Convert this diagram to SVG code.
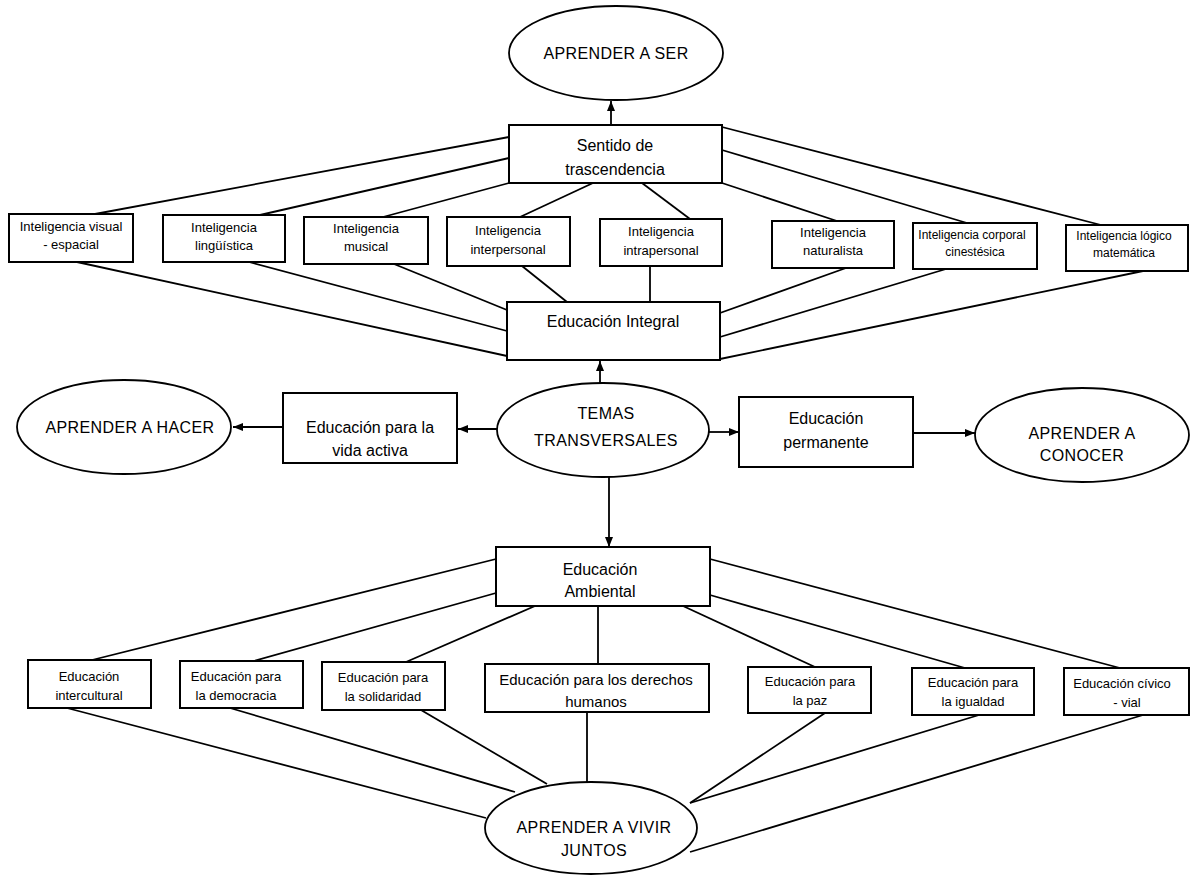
<svg xmlns="http://www.w3.org/2000/svg" width="1192" height="878" viewBox="0 0 1192 878">
<style>
.bg{fill:#ffffff}
.box{fill:#ffffff;stroke:#000;stroke-width:2}
.ell{fill:#ffffff;stroke:#000;stroke-width:1.8}
.ln{stroke:#000;stroke-width:1.8;fill:none}
.ar{stroke:#000;stroke-width:1.8;fill:none;marker-end:url(#ah)}
text{font-family:"Liberation Sans",Arial,sans-serif;fill:#000;text-anchor:middle}
.t16{font-size:16px;letter-spacing:0.4px}
.t16b{font-size:16px}
.t15{font-size:15px}
.t13{font-size:13px}
.t12{font-size:12px}
</style>
<defs>
<marker id="ah" markerUnits="userSpaceOnUse" markerWidth="11" markerHeight="9" refX="10" refY="4" orient="auto">
<path d="M0,0 L10,4 L0,8 Z" fill="#000"/>
</marker>
</defs>
<rect class="bg" x="0" y="0" width="1192" height="878"/>
<g id="connectors">
<line class="ar" x1="611" y1="125" x2="611" y2="101"/>
<line class="ar" x1="600" y1="384" x2="600" y2="361"/>
<line class="ar" x1="609" y1="477" x2="609" y2="547"/>
<line class="ar" x1="497" y1="429" x2="458" y2="429"/>
<line class="ar" x1="283" y1="427" x2="233" y2="427"/>
<line class="ar" x1="709" y1="432" x2="739" y2="432"/>
<line class="ar" x1="913" y1="433" x2="975" y2="433"/>
<line class="ln" x1="509" y1="137" x2="95" y2="214"/>
<line class="ln" x1="509" y1="158" x2="260" y2="215"/>
<line class="ln" x1="509" y1="183" x2="383" y2="217"/>
<line class="ln" x1="593" y1="183" x2="520" y2="217"/>
<line class="ln" x1="642" y1="183" x2="690" y2="219"/>
<line class="ln" x1="722" y1="183" x2="837" y2="221"/>
<line class="ln" x1="722" y1="150" x2="967" y2="223"/>
<line class="ln" x1="722" y1="127" x2="1101" y2="225"/>
<line class="ln" x1="77" y1="262" x2="507" y2="356"/>
<line class="ln" x1="249" y1="262" x2="507" y2="331"/>
<line class="ln" x1="394" y1="264" x2="507" y2="310"/>
<line class="ln" x1="522" y1="266" x2="567" y2="302"/>
<line class="ln" x1="650" y1="266" x2="650" y2="302"/>
<line class="ln" x1="846" y1="268" x2="720" y2="313"/>
<line class="ln" x1="946" y1="269" x2="720" y2="337"/>
<line class="ln" x1="1143" y1="271" x2="720" y2="359"/>
<line class="ln" x1="496" y1="559" x2="92" y2="660"/>
<line class="ln" x1="496" y1="593" x2="254" y2="661"/>
<line class="ln" x1="535" y1="606" x2="406" y2="662"/>
<line class="ln" x1="598" y1="606" x2="598" y2="664"/>
<line class="ln" x1="683" y1="606" x2="815" y2="667"/>
<line class="ln" x1="710" y1="595" x2="965" y2="668"/>
<line class="ln" x1="710" y1="559" x2="1120" y2="668"/>
<line class="ln" x1="67" y1="708" x2="486" y2="818"/>
<line class="ln" x1="230" y1="708" x2="515" y2="792"/>
<line class="ln" x1="421" y1="710" x2="547" y2="784"/>
<line class="ln" x1="587" y1="712" x2="587" y2="782"/>
<line class="ln" x1="825" y1="713" x2="690" y2="803"/>
<line class="ln" x1="979" y1="715" x2="690" y2="803"/>
<line class="ln" x1="1143" y1="715" x2="690" y2="852"/>
</g>
<g id="aprender-ser">
<ellipse class="ell" cx="616" cy="53" rx="107" ry="47"/>
<text class="t16" x="616" y="59">APRENDER A SER</text>
</g>
<g id="sentido">
<rect class="box" x="509" y="125" width="213" height="58"/>
<text class="t16b" x="615" y="151">Sentido de</text>
<text class="t16b" x="615" y="175">trascendencia</text>
</g>
<g id="int-visual">
<rect class="box" x="9" y="214" width="124" height="48"/>
<text class="t13" x="71" y="231">Inteligencia visual</text>
<text class="t13" x="71" y="249">- espacial</text>
</g>
<g id="int-linguistica">
<rect class="box" x="163" y="215" width="122" height="47"/>
<text class="t13" x="224" y="232">Inteligencia</text>
<text class="t13" x="224" y="250">lingüística</text>
</g>
<g id="int-musical">
<rect class="box" x="304" y="217" width="124" height="47"/>
<text class="t13" x="366" y="233">Inteligencia</text>
<text class="t13" x="366" y="251">musical</text>
</g>
<g id="int-interpersonal">
<rect class="box" x="447" y="217" width="123" height="49"/>
<text class="t13" x="508" y="235">Inteligencia</text>
<text class="t13" x="508" y="254">interpersonal</text>
</g>
<g id="int-intrapersonal">
<rect class="box" x="600" y="219" width="122" height="47"/>
<text class="t13" x="661" y="236">Inteligencia</text>
<text class="t13" x="661" y="255">intrapersonal</text>
</g>
<g id="int-naturalista">
<rect class="box" x="772" y="221" width="122" height="47"/>
<text class="t13" x="833" y="237">Inteligencia</text>
<text class="t13" x="833" y="255">naturalista</text>
</g>
<g id="int-corporal">
<rect class="box" x="913" y="223" width="124" height="46"/>
<text class="t12" x="972" y="239">Inteligencia corporal</text>
<text class="t12" x="975" y="256">cinestésica</text>
</g>
<g id="int-logica">
<rect class="box" x="1066" y="225" width="122" height="46"/>
<text class="t12" x="1124" y="240">Inteligencia lógico</text>
<text class="t12" x="1124" y="257">matemática</text>
</g>
<g id="edu-integral">
<rect class="box" x="507" y="302" width="213" height="58"/>
<text class="t16b" x="613" y="327">Educación Integral</text>
</g>
<g id="aprender-hacer">
<ellipse class="ell" cx="124" cy="427" rx="107" ry="47"/>
<text class="t16" x="130" y="433">APRENDER A HACER</text>
</g>
<g id="edu-vida">
<rect class="box" x="283" y="393" width="174" height="70"/>
<text class="t16b" x="370" y="433">Educación para la</text>
<text class="t16b" x="370" y="456">vida activa</text>
</g>
<g id="temas">
<ellipse class="ell" cx="603" cy="430" rx="106" ry="47"/>
<text class="t16" x="606" y="419">TEMAS</text>
<text class="t16" x="606" y="446">TRANSVERSALES</text>
</g>
<g id="edu-permanente">
<rect class="box" x="739" y="397" width="174" height="70"/>
<text class="t16b" x="826" y="424">Educación</text>
<text class="t16b" x="826" y="448">permanente</text>
</g>
<g id="aprender-conocer">
<ellipse class="ell" cx="1082" cy="435" rx="107" ry="47"/>
<text class="t16" x="1082" y="439">APRENDER A</text>
<text class="t16" x="1082" y="461">CONOCER</text>
</g>
<g id="edu-ambiental">
<rect class="box" x="496" y="547" width="214" height="59"/>
<text class="t16b" x="600" y="575">Educación</text>
<text class="t16b" x="600" y="597">Ambiental</text>
</g>
<g id="edu-intercultural">
<rect class="box" x="28" y="660" width="123" height="48"/>
<text class="t13" x="89" y="681">Educación</text>
<text class="t13" x="89" y="700">intercultural</text>
</g>
<g id="edu-democracia">
<rect class="box" x="180" y="661" width="123" height="47"/>
<text class="t13" x="236" y="681">Educación para</text>
<text class="t13" x="236" y="700">la democracia</text>
</g>
<g id="edu-solidaridad">
<rect class="box" x="322" y="662" width="123" height="48"/>
<text class="t13" x="383" y="682">Educación para</text>
<text class="t13" x="383" y="701">la solidaridad</text>
</g>
<g id="edu-derechos">
<rect class="box" x="485" y="664" width="224" height="48"/>
<text class="t15" x="596" y="685">Educación para los derechos</text>
<text class="t15" x="596" y="707">humanos</text>
</g>
<g id="edu-paz">
<rect class="box" x="748" y="667" width="123" height="46"/>
<text class="t13" x="810" y="686">Educación para</text>
<text class="t13" x="810" y="705">la paz</text>
</g>
<g id="edu-igualdad">
<rect class="box" x="912" y="668" width="122" height="47"/>
<text class="t13" x="973" y="687">Educación para</text>
<text class="t13" x="973" y="706">la igualdad</text>
</g>
<g id="edu-civico">
<rect class="box" x="1064" y="668" width="125" height="47"/>
<text class="t13" x="1122" y="688">Educación cívico</text>
<text class="t13" x="1127" y="707">- vial</text>
</g>
<g id="aprender-vivir">
<ellipse class="ell" cx="591" cy="828" rx="106" ry="46"/>
<text class="t16" x="594" y="833">APRENDER A VIVIR</text>
<text class="t16" x="594" y="856">JUNTOS</text>
</g>
</svg>
